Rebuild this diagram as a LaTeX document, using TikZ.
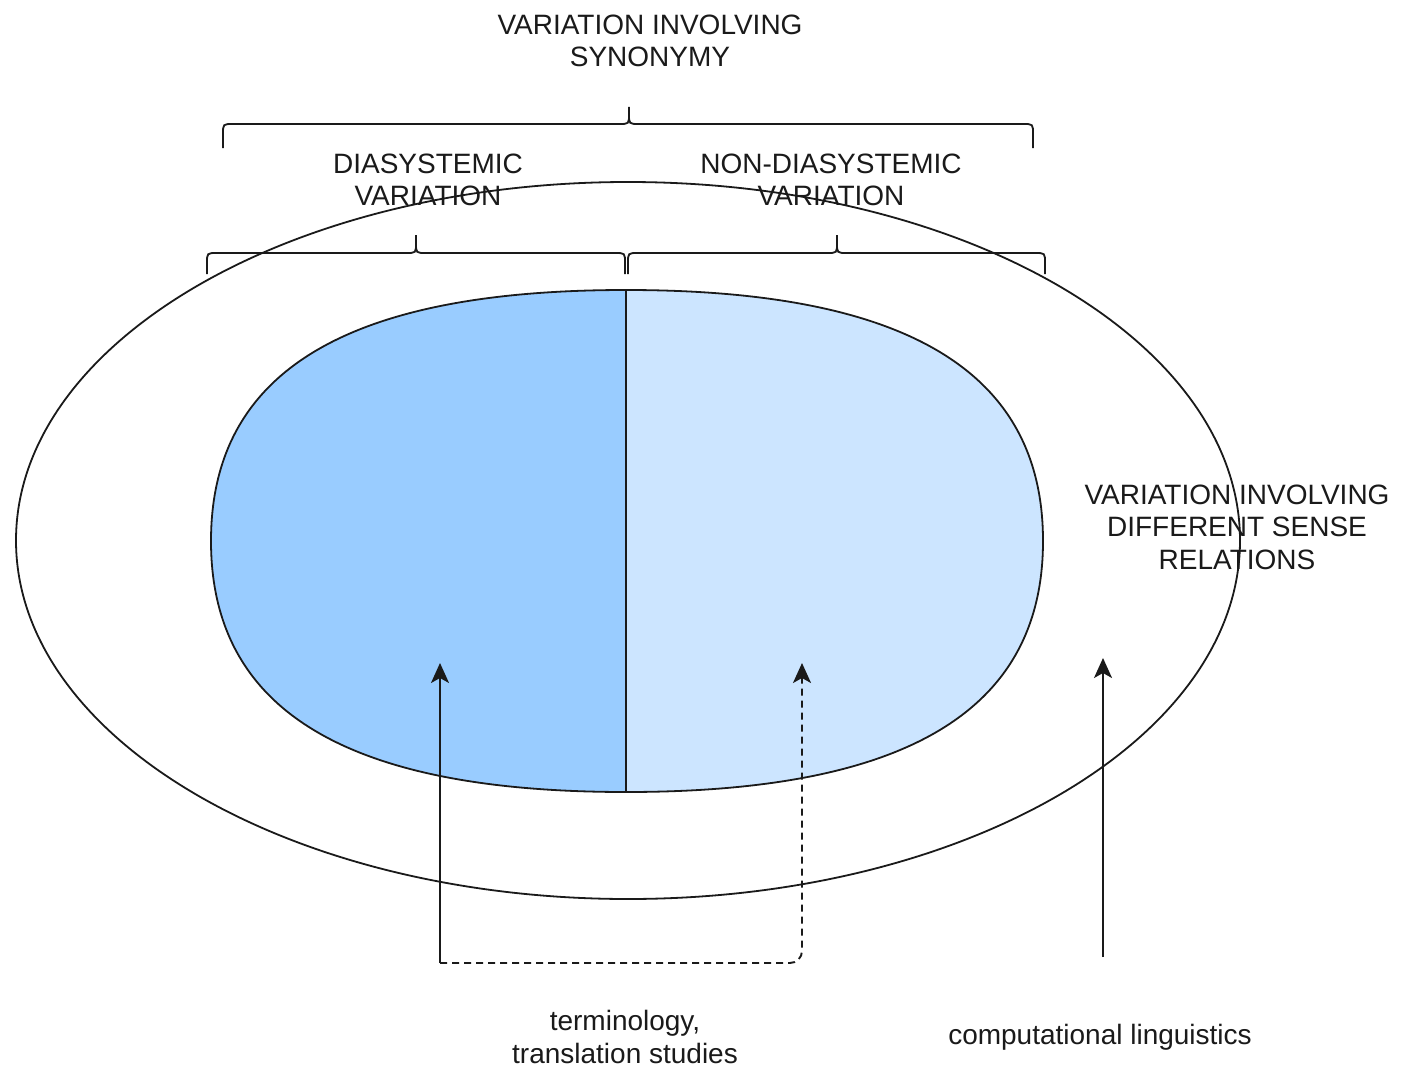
\documentclass[tikz,border=0pt]{standalone}
\usepackage{fontspec}
\setmainfont{Liberation Sans}
\usetikzlibrary{arrows.meta}
\newcommand\mybrace[6]{%
  \draw[bracestyle] (#1,#4) -- (#1,#5+10) .. controls (#1,#5) .. (#1+10,#5)
    -- (#3-10,#5) .. controls (#3,#5) .. (#3,#5-10) -- (#3,#6);
  \draw[bracestyle] (#2,#4) -- (#2,#5+10) .. controls (#2,#5) .. (#2-10,#5)
    -- (#3+10,#5) .. controls (#3,#5) .. (#3,#5-10);
}
\definecolor{darkblue}{HTML}{99CCFF}
\definecolor{lightblue}{HTML}{CCE5FF}
\definecolor{ink}{HTML}{1A1A1A}
\tikzset{
  lbl/.style={font=\fontsize{28}{32.5}\selectfont, align=center, inner sep=0pt, text=ink},
  bracestyle/.style={line width=1.8pt, ink},
  shapeline/.style={line width=1.8pt, ink},
  arr/.style={line width=1.9pt, ink, -{Stealth[length=20pt,width=18pt,inset=5pt]}},
  darr/.style={arr, dash pattern=on 7pt off 5pt, rounded corners=12pt},
}
\begin{document}
\begin{tikzpicture}[x=1pt,y=-1pt]
\useasboundingbox[fill=white] (0,0) rectangle (1402,1070);
% outer ellipse
\draw[shapeline] (628,540.5) ellipse [x radius=612, y radius=358.5];
% inner shape halves
\draw[shapeline, fill=darkblue] (626,290) .. controls (346,290) and (211,372) .. (211,541)
  .. controls (211,710) and (346,792) .. (626,792) -- cycle;
\draw[shapeline, fill=lightblue] (626,290) .. controls (907.5,290) and (1043,372) .. (1043,541)
  .. controls (1043,710) and (907.5,792) .. (626,792) -- cycle;
% braces
\mybrace{223}{1033}{629}{148}{124}{107}
\mybrace{207}{625}{416}{274}{253}{235}
\mybrace{628}{1045}{837}{274}{253}{235}
% labels
\node[lbl] (title) at (650,41) {VARIATION INVOLVING\\SYNONYMY};
\node[lbl] (dia) at (428,180) {DIASYSTEMIC\\VARIATION};
\node[lbl] (nondia) at (831,180) {NON-DIASYSTEMIC\\VARIATION};
\node[lbl] (sense) at (1237,527) {VARIATION INVOLVING\\DIFFERENT SENSE\\RELATIONS};
\node[lbl] (term) at (625,1037) {terminology,\\translation studies};
\node[lbl] (comp) at (1100,1037) {computational linguistics};
% arrows
\coordinate (src) at (440,963);
\coordinate (t1) at (440,663);
\coordinate (t2) at (802,663);
\coordinate (src3) at (1103,957);
\coordinate (t3) at (1103,658);
\draw[arr] (src) -- (t1);
\draw[darr] (src) -| (t2);
\draw[arr] (src3) -- (t3);
\end{tikzpicture}
\end{document}
